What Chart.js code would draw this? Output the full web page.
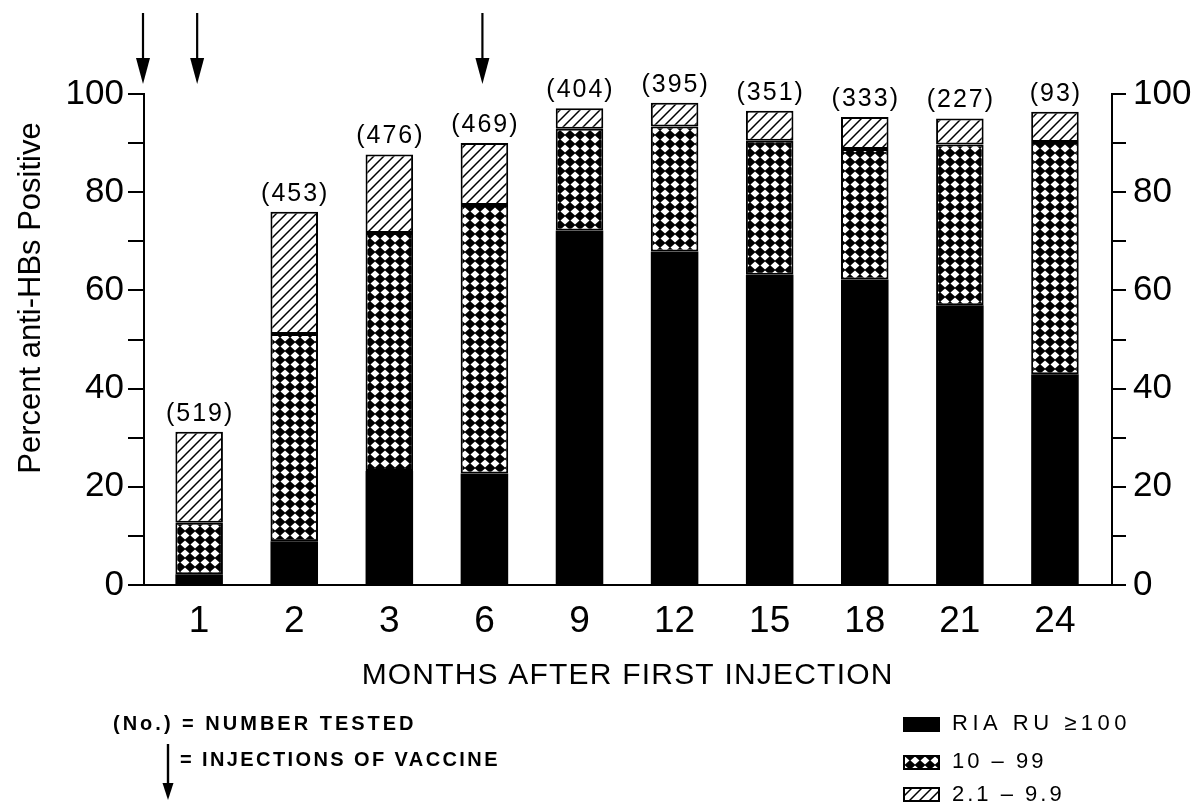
<!DOCTYPE html>
<html>
<head>
<meta charset="utf-8">
<script src="https://cdn.jsdelivr.net/npm/chart.js@4.4.1/dist/chart.umd.min.js"></script>
<style>
  html, body { margin: 0; padding: 0; background: #fff; }
  canvas { display: block; }
</style>
</head>
<body>
<canvas id="chart" width="1192" height="806"></canvas>
<script>
// Months after the first injection (one bar per sampling time)
const months = ['1', '2', '3', '6', '9', '12', '15', '18', '21', '24'];
// Number of vaccinees tested at each time point
const numberTested = [519, 453, 476, 469, 404, 395, 351, 333, 227, 93];
// Percent anti-HBs positive, split by RIA ratio-unit band (stacked bottom to top)
const ruAtLeast100 = [2.2, 8.9, 23.2, 22.7, 72.2, 67.9, 63.2, 62.2, 57.0, 42.9];
const ru10to99     = [10.5, 42.2, 48.5, 54.7, 20.7, 25.5, 27.3, 26.6, 32.7, 47.3];
const ru2to9       = [18.5, 24.9, 16.0, 12.6, 4.2, 4.8, 6.1, 6.5, 5.3, 6.2];
// Months at which a vaccine dose was given
const injectionMonths = [0, 1, 6];
// Labelled y ticks (minor ticks every 10 are unlabelled)
const yLabelledTicks = [0, 20, 40, 60, 80, 100];
const seriesLabels = ['RIA RU \u2265100', '10 \u2013 99', '2.1 \u2013 9.9'];
const xTitle = 'MONTHS AFTER FIRST INJECTION';
const yTitle = 'Percent anti-HBs Positive';
const noteTested = '(No.) = NUMBER TESTED';
const noteInjection = '= INJECTIONS OF VACCINE';

const FONT = "'Liberation Sans', Arial, Helvetica, sans-serif";
const canvas = document.getElementById('chart');
const ctx = canvas.getContext('2d');

// Fill patterns: a diamond lattice for 10-99 and a fine diagonal hatch for 2.1-9.9
function makeCrossHatch() {
  const t = document.createElement('canvas');
  t.width = 10; t.height = 9;
  const g = t.getContext('2d');
  g.fillStyle = '#000';
  g.fillRect(0, 0, 10, 9);
  g.fillStyle = '#fff';
  g.beginPath();
  g.moveTo(5, 0.4);
  g.lineTo(9.5, 4.5);
  g.lineTo(5, 8.6);
  g.lineTo(0.5, 4.5);
  g.closePath();
  g.fill();
  return ctx.createPattern(t, 'repeat');
}
function makeDiagHatch() {
  const s = 10;
  const t = document.createElement('canvas');
  t.width = s; t.height = s;
  const g = t.getContext('2d');
  g.fillStyle = '#fff';
  g.fillRect(0, 0, s, s);
  g.strokeStyle = '#000';
  g.lineWidth = 1.5;
  g.beginPath();
  g.moveTo(0, s); g.lineTo(s, 0);
  g.moveTo(-s / 2, s / 2); g.lineTo(s / 2, -s / 2);
  g.moveTo(s / 2, 3 * s / 2); g.lineTo(3 * s / 2, s / 2);
  g.stroke();
  return ctx.createPattern(t, 'repeat');
}
const crossFill = makeCrossHatch();
const diagFill = makeDiagHatch();

function drawText(c, str, x, y, size, opts = {}) {
  c.save();
  c.font = `${opts.weight || 'normal'} ${size}px ${FONT}`;
  c.letterSpacing = (opts.spacing || 0) + 'px';
  c.textAlign = opts.align || 'left';
  c.textBaseline = 'middle';
  c.fillStyle = '#000';
  const dx = opts.align === 'center' ? (opts.spacing || 0) / 2 : 0;
  c.fillText(str, x + dx, y);
  c.restore();
}

function drawArrow(c, x, yTop, yTip, headLen, headW, lw) {
  c.save();
  c.strokeStyle = '#000';
  c.fillStyle = '#000';
  c.lineWidth = lw;
  c.beginPath();
  c.moveTo(x, yTop);
  c.lineTo(x, yTip - headLen + 2);
  c.stroke();
  c.beginPath();
  c.moveTo(x - headW / 2, yTip - headLen);
  c.lineTo(x + headW / 2, yTip - headLen);
  c.lineTo(x, yTip);
  c.closePath();
  c.fill();
  c.restore();
}

// Counts, injection arrows, axis titles, notes and legend
const decorations = {
  id: 'decorations',
  afterDraw(chart) {
    const c = chart.ctx;
    const xs = chart.scales.x;

    // (n) above each stacked bar
    const topMeta = chart.getDatasetMeta(chart.data.datasets.length - 1);
    topMeta.data.forEach((bar, i) => {
      drawText(c, `(${numberTested[i]})`, bar.x, bar.y - 18, 25, { align: 'center', spacing: 2 });
    });

    // vaccine injections
    injectionMonths.forEach(m => {
      const idx = months.indexOf(String(m));
      const px = idx < 0 ? xs.getPixelForValue(xs.min) - 1 : xs.getPixelForValue(idx) - 2;
      drawArrow(c, px, 13, 84, 26, 14, 2.2);
    });

    // y axis title
    c.save();
    c.translate(31, 298);
    c.rotate(-Math.PI / 2);
    drawText(c, yTitle, 0, 0, 31, { align: 'center' });
    c.restore();

    // x axis title
    drawText(c, xTitle, 627, 676, 30, { align: 'center', spacing: 1.2 });

    // notes
    drawText(c, noteTested, 113, 724, 20, { spacing: 3, weight: 'bold' });
    drawText(c, noteInjection, 180, 760, 20, { spacing: 2.4, weight: 'bold' });
    drawArrow(c, 168, 744, 800, 17, 11, 2.4);

    // legend
    const boxYs = [717, 755, 787];
    const textYs = [724, 762, 795];
    chart.data.datasets.forEach((ds, i) => {
      c.save();
      c.fillStyle = ds.backgroundColor;
      c.fillRect(903, boxYs[i], 37, 15);
      if (i > 0) {
        c.strokeStyle = '#000';
        c.lineWidth = 2;
        c.strokeRect(904, boxYs[i] + 1, 35, 13);
      }
      c.restore();
      drawText(c, ds.label, 952, textYs[i], 22, { spacing: i === 0 ? 4.5 : 3 });
    });
  }
};

const toPoints = arr => arr.map((v, i) => ({ x: i, y: v }));

const yAxisCommon = {
  stacked: true,
  min: 0,
  max: 100,
  ticks: {
    stepSize: 10,
    color: '#000',
    font: { family: FONT, size: 35 },
    callback: v => (yLabelledTicks.includes(v) ? String(v) : '')
  },
  grid: { drawOnChartArea: false, tickLength: 16, color: '#000', lineWidth: 2 },
  border: { color: '#000', width: 2 }
};

new Chart(ctx, {
  type: 'bar',
  data: {
    datasets: [
      { label: seriesLabels[0], data: toPoints(ruAtLeast100), backgroundColor: '#000', borderColor: '#000', borderWidth: 0 },
      { label: seriesLabels[1], data: toPoints(ru10to99), backgroundColor: crossFill, borderColor: '#000', borderWidth: 2, borderSkipped: false },
      { label: seriesLabels[2], data: toPoints(ru2to9), backgroundColor: diagFill, borderColor: '#000', borderWidth: 2, borderSkipped: false }
    ]
  },
  options: {
    responsive: false,
    animation: false,
    events: [],
    layout: { padding: { top: 94, left: 0, right: 0, bottom: 0 } },
    datasets: { bar: { barPercentage: 0.5, categoryPercentage: 1 } },
    plugins: { legend: { display: false }, tooltip: { enabled: false } },
    scales: {
      x: {
        type: 'linear',
        stacked: true,
        offset: false,
        min: -0.58,
        max: 9.6,
        afterBuildTicks: s => { s.ticks = months.map((_, i) => ({ value: i })); },
        ticks: {
          color: '#000',
          font: { family: FONT, size: 37 },
          padding: 15,
          callback: v => months[v] ?? ''
        },
        grid: { display: false, drawTicks: false, offset: false },
        border: { color: '#000', width: 2 },
        afterFit: s => { s.height = 806 - 585; }
      },
      y: Object.assign({}, yAxisCommon, {
        position: 'left',
        ticks: Object.assign({}, yAxisCommon.ticks, { padding: 4 }),
        afterFit: s => { s.width = 144; }
      }),
      y2: Object.assign({}, yAxisCommon, {
        position: 'right',
        grid: Object.assign({}, yAxisCommon.grid, { tickLength: 14 }),
        ticks: Object.assign({}, yAxisCommon.ticks, { padding: 7 }),
        afterFit: s => { s.width = 80; }
      })
    }
  },
  plugins: [decorations]
});
</script>
</body>
</html>
